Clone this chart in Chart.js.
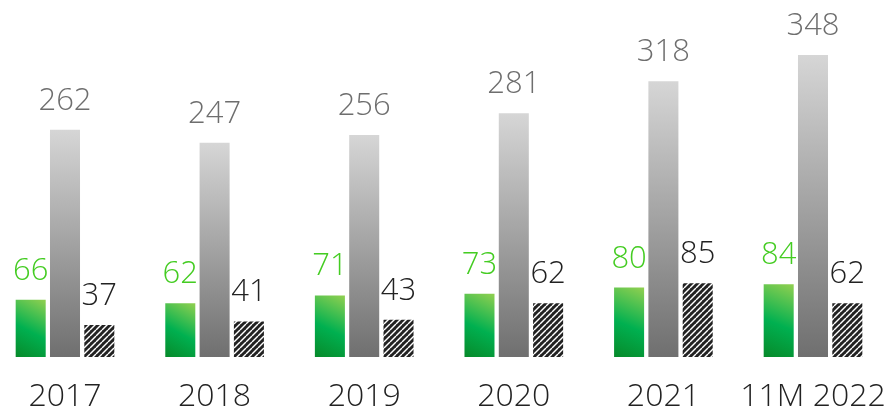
<!DOCTYPE html>
<html>
<head>
<meta charset="utf-8">
<script src="https://cdn.jsdelivr.net/npm/chart.js@4"></script>
<style>
  html, body { margin: 0; padding: 0; background: #fff; }
  #wrap { width: 886px; height: 411px; }
</style>
</head>
<body>
<div id="wrap"><canvas id="chart"></canvas></div>
<script>
const years = ['2017', '2018', '2019', '2020', '2021', '11M 2022']
const green_vals = [66, 62, 71, 73, 80, 84]
const gray_vals = [262, 247, 256, 281, 318, 348]
const black_vals = [37, 41, 43, 62, 85, 62]

const FONT = '"Open Sans", Lato, sans-serif'

// hatched fill for the third series
function hatch() {
    const c = document.createElement('canvas')
    c.width = 6
    c.height = 6
    const g = c.getContext('2d')
    g.fillStyle = '#222'
    g.fillRect(0, 0, 6, 6)
    g.strokeStyle = '#fff'
    g.lineWidth = 1.4
    for (let k = -6; k <= 12; k += 6) {
        g.beginPath()
        g.moveTo(k, 6)
        g.lineTo(k + 6, 0)
        g.stroke()
    }
    return g.createPattern(c, 'repeat')
}

// gradients are built per bar from the scales
function greenFill(c) {
    const chart = c.chart
    const xs = chart.scales.x, ys = chart.scales.y
    if (!chart.chartArea || c.type !== 'data' || !xs || !ys) return '#00b050'
    const cx = xs.getPixelForValue(c.dataIndex) - 34
    const top = ys.getPixelForValue(c.raw)
    const base = ys.getPixelForValue(0)
    const g = chart.ctx.createLinearGradient(cx - 15, base, cx + 15, top)
    g.addColorStop(0, '#078a2a')
    g.addColorStop(0.45, '#00b050')
    g.addColorStop(1, '#92d050')
    return g
}

function grayFill(c) {
    const chart = c.chart
    const ys = chart.scales.y
    if (!chart.chartArea || c.type !== 'data' || !ys) return '#999'
    const top = ys.getPixelForValue(c.raw)
    const base = ys.getPixelForValue(0)
    const g = chart.ctx.createLinearGradient(0, top, 0, base)
    g.addColorStop(0, '#d6d6d6')
    g.addColorStop(1, '#6f6f6f')
    return g
}

const valueLabels = {
    id: 'valueLabels',
    afterDatasetsDraw(chart) {
        const ctx = chart.ctx
        ctx.save()
        ctx.font = '300 31px ' + FONT
        ctx.textAlign = 'center'
        ctx.textBaseline = 'alphabetic'
        chart.data.datasets.forEach((ds, d) => {
            chart.getDatasetMeta(d).data.forEach((el, i) => {
                ctx.fillStyle = ds.labelColor
                ctx.fillText(ds.data[i], el.x, el.y - 20)
            })
        })
        ctx.restore()
    }
}

const ctx_main = document.getElementById('chart')
const chart_main = new Chart(ctx_main, {
    type: 'bar',
    data: {
        labels: years,
        datasets: [
            {
                label: 'green',
                data: green_vals,
                backgroundColor: greenFill,
                labelColor: '#44cc22',
                clip: false
            },
            {
                label: 'gray',
                data: gray_vals,
                backgroundColor: grayFill,
                labelColor: '#6e6e6e',
                clip: false
            },
            {
                label: 'black',
                data: black_vals,
                backgroundColor: hatch(),
                labelColor: '#222',
                clip: false
            }
        ]
    },
    options: {
        responsive: true,
        maintainAspectRatio: false,
        animation: false,
        layout: { padding: { left: 65, right: 73, top: 10, bottom: 0 } },
        datasets: { bar: { categoryPercentage: 0.688, barPercentage: 0.875 } },
        plugins: {
            legend: { display: false },
            tooltip: { enabled: false }
        },
        scales: {
            x: {
                offset: false,
                grid: { display: false, drawTicks: false },
                border: { display: false },
                afterFit: (s) => {
                    s.height = 54
                    s.paddingLeft = 0
                    s.paddingRight = 0
                },
                ticks: {
                    padding: 24,
                    color: '#222',
                    font: { family: FONT, size: 32, weight: '300', lineHeight: 1 },
                    maxRotation: 0,
                    autoSkip: false
                }
            },
            y: {
                display: false,
                min: 0,
                max: 400
            }
        }
    },
    plugins: [valueLabels]
})
</script>
</body>
</html>
